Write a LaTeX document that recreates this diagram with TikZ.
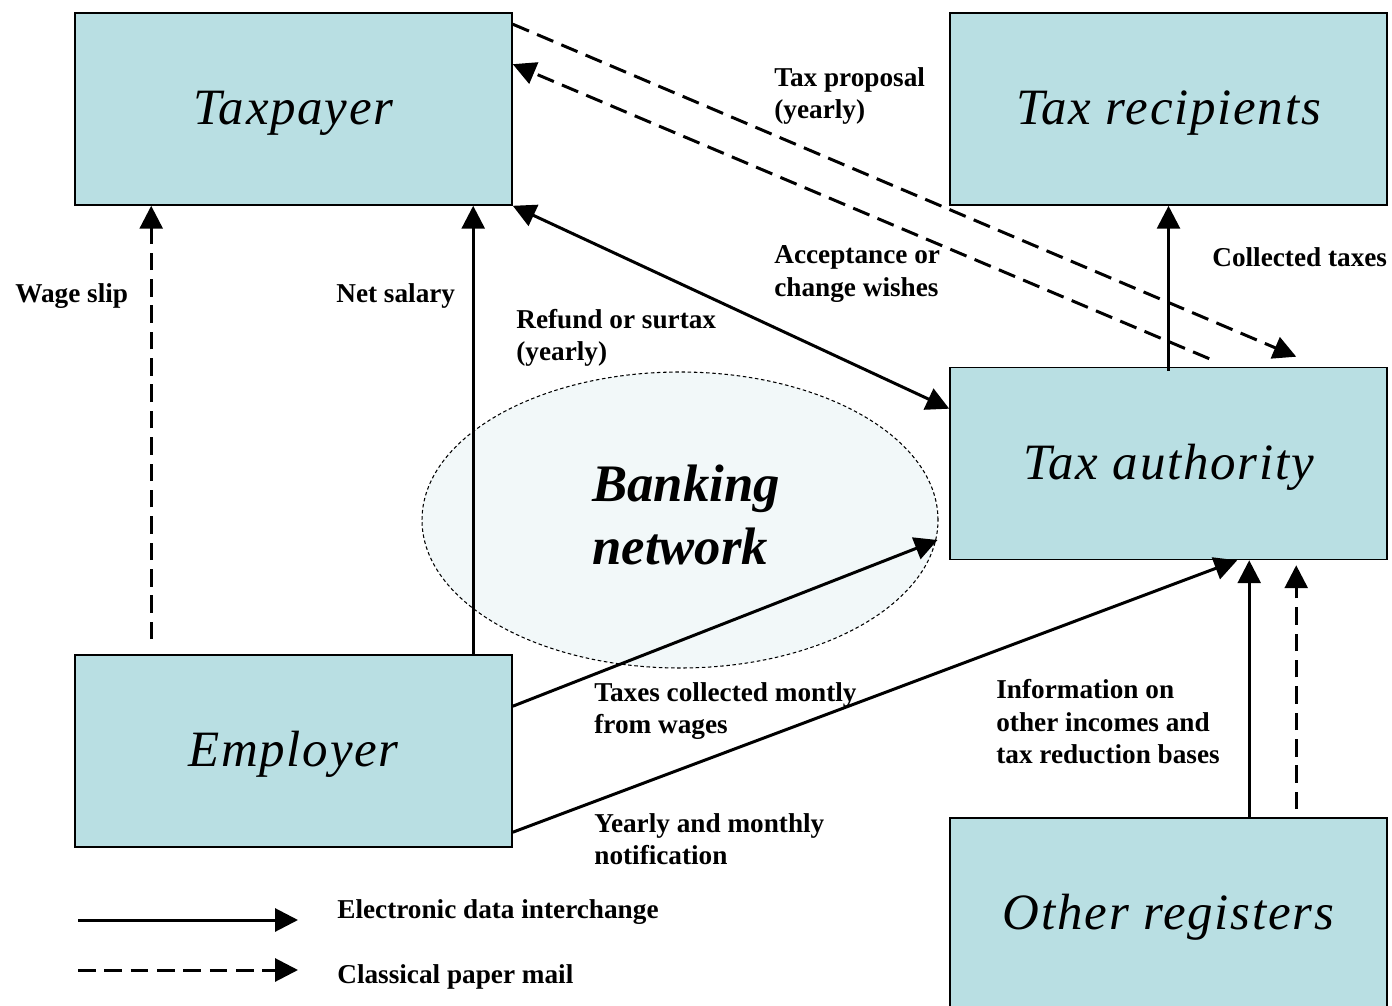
\documentclass[tikz,border=0pt]{standalone}
\usepackage{fontspec}
\setmainfont{Liberation Serif}
\newfontfamily\boxfont[LetterSpace=3.5]{Liberation Serif Italic}
\usetikzlibrary{arrows.meta,calc,shapes.geometric}
\definecolor{boxfill}{HTML}{B9DFE3}
\definecolor{bankfill}{HTML}{F2F8F9}
\newcommand{\boxtxt}[1]{\raisebox{-9pt}[0pt][0pt]{#1}}
\tikzset{
  box/.style={draw=black, line width=0.9pt, fill=boxfill, minimum width=437*0.02cm, minimum height=192*0.02cm, inner sep=0pt, font=\boxfont\fontsize{29}{36}\selectfont},
  lbl/.style={align=left, inner sep=0pt, anchor=west, font=\bfseries\fontsize{15.5}{18.5}\selectfont},
  conn/.style={line width=1.7pt, -{Triangle[length=13pt,width=13pt]}},
  paper/.style={conn, dash pattern=on 10pt off 5pt},
}
\begin{document}
\begin{tikzpicture}[x=0.02cm, y=-0.02cm]
\useasboundingbox (0,0) rectangle (1392,1006);
% boxes
\node[box] (tp) at (293.5,109) {\boxtxt{Taxpayer}};
\node[box] (tr) at (1168.5,109) {\boxtxt{Tax recipients}};
\node[box] (ta) at (1168.5,463.5) {\boxtxt{Tax authority}};
\node[box] (emp) at (293.5,751) {\boxtxt{Employer}};
\node[box] (oth) at (1168.5,914) {\boxtxt{Other registers}};
% banking network
\node[ellipse, draw=black, line width=0.6pt, dash pattern=on 2pt off 1.5pt, fill=bankfill,
      minimum width=516*0.02cm, minimum height=296*0.02cm, inner sep=0pt,
      align=left, font=\bfseries\itshape\fontsize{30}{36}\selectfont] (bank) at (680,520) {\raisebox{6pt}{\hspace{7pt}Banking}\\\raisebox{6pt}{\hspace{7pt}network}};
% connectors
\draw[paper] ($(emp.north west)+(77,-15)$) -- ($(tp.south west)+(77,0)$);
\draw[conn] ($(emp.north west)+(399,0)$) -- ($(tp.south west)+(399,0)$);
\draw[conn, {Triangle[length=13pt,width=13pt]}-{Triangle[length=13pt,width=13pt]}] (tp.south east) -- ($(ta.north west)+(0,42)$);
\draw[paper] ($(tp.north east)+(0,12)$) -- ($(ta.north west)+(347,-10)$);
\draw[paper] ($(ta.north west)+(260,-8)$) -- ($(tp.north east)+(0,52)$);
\draw[conn] ($(ta.north)+(0,4)$) -- (tr.south);
\draw[conn] ($(emp.north east)+(0,52)$) -- ($(bank.east)+(-1,20)$);
\draw[conn] ($(emp.north east)+(0,178)$) -- ($(ta.south west)+(288,0)$);
\draw[conn] ($(oth.north west)+(300,0)$) -- ($(ta.south west)+(300,0)$);
\draw[paper] ($(oth.north west)+(347,-8)$) -- ($(ta.south west)+(347,5)$);
% labels
\node[lbl] (l1) at (774,96) {Tax proposal\\(yearly)};
\node[lbl] (l2) at (774,274) {Acceptance or\\change wishes};
\node[lbl] (l3) at (1212,257) {Collected taxes};
\node[lbl] (l4) at (15,296) {Wage slip};
\node[lbl] (l5) at (336,296) {Net salary};
\node[lbl] (l6) at (516,338) {Refund or surtax\\(yearly)};
\node[lbl] (l7) at (594,711) {Taxes collected montly\\from wages};
\node[lbl] (l8) at (996,722) {Information on\\other incomes and\\tax reduction bases};
\node[lbl] (l9) at (594,839) {Yearly and monthly\\notification};
% legend
\coordinate (e1) at (78,920);
\coordinate (e2) at (298,920);
\coordinate (p1) at (78,970);
\coordinate (p2) at (298,970);
\draw[conn] (e1) -- (e2);
\draw[paper] (p1) -- (p2);
\node[lbl] (l10) at (337,912) {Electronic data interchange};
\node[lbl] (l11) at (337,977) {Classical paper mail};
\end{tikzpicture}
\end{document}
